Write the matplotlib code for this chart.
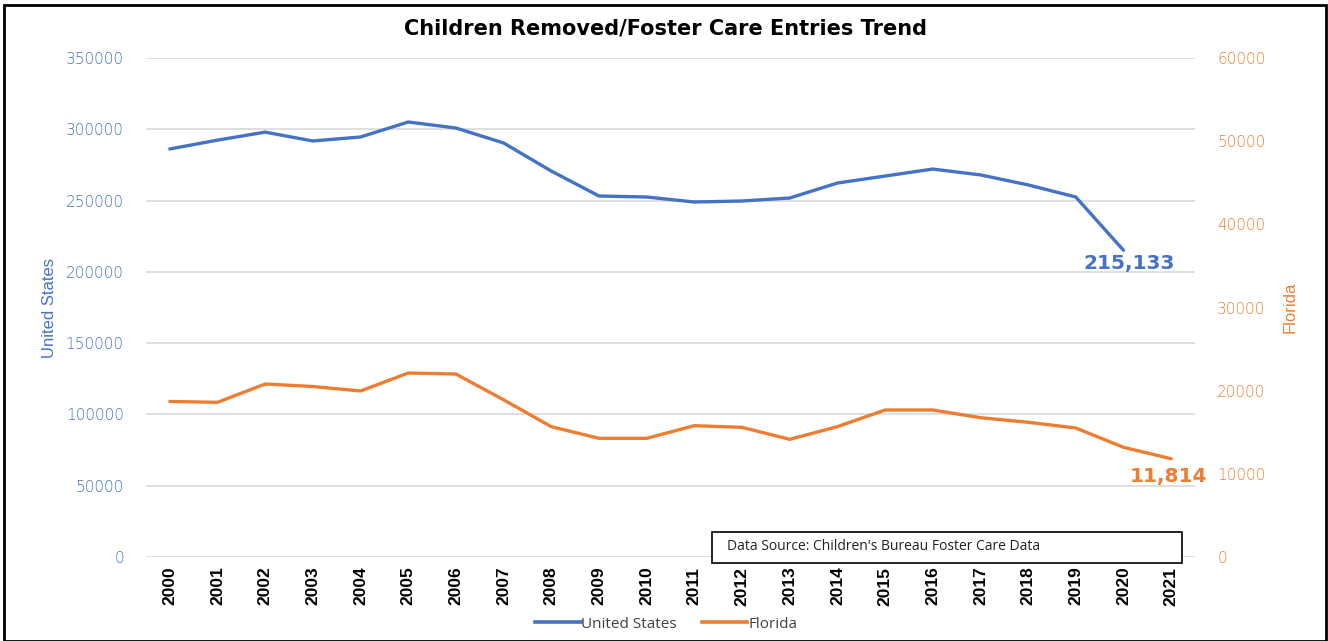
import matplotlib
matplotlib.use("Agg")
import matplotlib.pyplot as plt
from matplotlib.patches import Rectangle
from matplotlib.lines import Line2D

years = [str(y) for y in range(2000, 2022)]
us_values = [286200, 292400, 298000, 291800, 294600, 305100, 300900, 290400,
             270700, 253200, 252500, 249000, 249700, 251800, 262300, 267200,
             272100, 268000, 261000, 252500, 215133]
fl_values = [18700, 18600, 20800, 20500, 19960, 22120, 22000, 18900,
             15670, 14270, 14270, 15790, 15590, 14150, 15670, 17675,
             17675, 16750, 16200, 15510, 13190, 11814]

title = "Children Removed/Foster Care Entries Trend"
source_text = "Data Source: Children's Bureau Foster Care Data"

BLUE = "#4472C4"
ORANGE = "#ED7D31"

W, H = 1328, 641
fig = plt.figure(figsize=(W / 100, H / 100), dpi=100)
ax = fig.add_axes([146 / W, 84 / H, (1195 - 146) / W, (557 - 58) / H])
ax2 = ax.twinx()

x = list(range(len(years)))
ax.plot(x[:len(us_values)], us_values, color=BLUE, lw=2.4, solid_capstyle="round", zorder=3)
ax2.plot(x, fl_values, color=ORANGE, lw=2.4, solid_capstyle="round", zorder=3)

ax.set_xlim(-0.5, len(years) - 0.5)
ax.set_ylim(0, 350000)
ax2.set_ylim(0, 60000)
ax.set_yticks(range(0, 350001, 50000))
ax2.set_yticks(range(0, 60001, 10000))
ax.set_xticks(x)
ax.set_xticklabels(years, rotation=90, fontsize=12.5, fontweight="bold",
                   family="Liberation Sans")

ax.grid(axis="y", color="#D9D9D9", lw=1.2)
ax.set_axisbelow(True)
for a in (ax, ax2):
    for s in a.spines.values():
        s.set_visible(False)
ax.tick_params(axis="x", length=0, pad=7)
ax.tick_params(axis="y", length=0, pad=16, labelcolor=BLUE, labelsize=11)
ax2.tick_params(axis="y", length=0, pad=16, labelcolor=ORANGE, labelsize=11)
for lab in ax.get_yticklabels() + ax2.get_yticklabels():
    lab.set_family("DejaVu Sans")
    lab.set_fontweight("light")

ax.set_ylabel("United States", color=BLUE, fontsize=12, family="Liberation Sans", labelpad=6)
ax2.set_ylabel("Florida", color=ORANGE, fontsize=12, family="Liberation Sans", labelpad=12)

# data labels
ax.annotate(f"{us_values[-1]:,}", (x[len(us_values) - 1], us_values[-1]),
            xytext=(4, -3), textcoords="offset points", ha="center", va="top",
            color=BLUE, fontsize=14.5, fontweight="bold", family="DejaVu Sans", zorder=5)
ax2.annotate(f"{fl_values[-1]:,}", (x[-1], fl_values[-1]),
             xytext=(-2, -6), textcoords="offset points", ha="center", va="top",
             color=ORANGE, fontsize=14.5, fontweight="bold", family="DejaVu Sans", zorder=5)

fig.text(665 / W, 1 - 29 / H, title, ha="center", va="center",
         fontsize=15, fontweight="bold", family="DejaVu Sans")

# source box
box = Rectangle((712 / W, 1 - 563 / H), (1182 - 712) / W, (563 - 532) / H,
                transform=fig.transFigure, facecolor="white", edgecolor="black",
                lw=1.2, zorder=10)
fig.add_artist(box)
fig.text(727 / W, 1 - 546 / H, source_text, ha="left", va="center",
         fontsize=10, color="#222222", family="Open Sans", zorder=11)

# legend
handles = [Line2D([], [], color=BLUE, lw=2.6), Line2D([], [], color=ORANGE, lw=2.6)]
fig.legend(handles, ["United States", "Florida"], loc="center",
           bbox_to_anchor=(666 / W, 1 - 624 / H), ncol=2, frameon=False,
           handlelength=3.0, handletextpad=0.05, columnspacing=1.6,
           labelcolor="#404040", prop={"family": "Open Sans", "size": 11})

# outer frame
frame = Rectangle((4 / W, 0), (1326 - 4) / W, (641 - 5) / H, transform=fig.transFigure,
                  facecolor="none", edgecolor="black", lw=2, zorder=20)
fig.add_artist(frame)

fig.savefig("out.png", dpi=100)
